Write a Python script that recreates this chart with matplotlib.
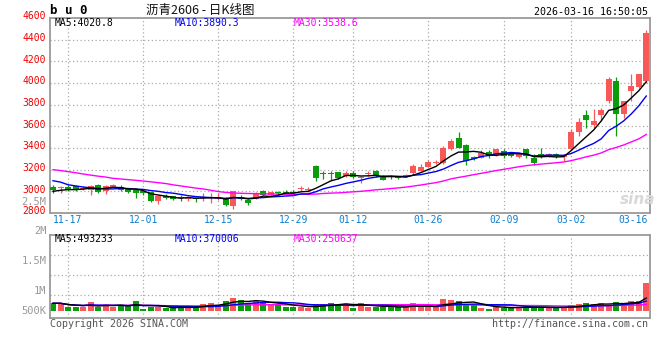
import numpy as np
import pandas as pd
import matplotlib
matplotlib.use("Agg")
import matplotlib.pyplot as plt
from matplotlib import transforms

# ---------------- data ----------------
open_ = [3043, 3028, 3043, 3046, 3025, 3009, 3061, 3000, 3043, 3043,
         3022, 3013, 3006, 2991, 2909, 2961, 2954, 2951, 2930, 2939,
         2940, 2937, 2930, 2939, 2860, 2951, 2924, 2930, 3006, 2970,
         2991, 2997, 2997, 3025, 3010, 3236, 3162, 3162, 3175, 3138,
         3165, 3126, 3163, 3190, 3144, 3137, 3130, 3142, 3165, 3190,
         3226, 3263, 3265, 3388, 3490, 3428, 3318, 3312, 3364, 3337,
         3373, 3349, 3318, 3389, 3312, 3343, 3327, 3343, 3321, 3389,
         3548, 3701, 3609, 3704, 3832, 4022, 3710, 3924, 3963, 4016]
close = [3009, 3034, 3013, 3016, 3030, 3052, 2991, 3052, 3061, 3016,
         2991, 2985, 2985, 2909, 2961, 2939, 2930, 2942, 2942, 2930,
         2944, 2941, 2951, 2875, 3006, 2927, 2890, 2988, 2970, 2991,
         2982, 2988, 2985, 3030, 3015, 3123, 3158, 3157, 3123, 3169,
         3128, 3130, 3167, 3144, 3107, 3133, 3126, 3146, 3236, 3226,
         3275, 3267, 3400, 3465, 3404, 3282, 3294, 3358, 3337, 3389,
         3327, 3327, 3358, 3327, 3266, 3318, 3343, 3334, 3337, 3548,
         3640, 3658, 3649, 3750, 4040, 3716, 3832, 3970, 4083, 4459]
high = [3058, 3052, 3058, 3058, 3052, 3055, 3068, 3061, 3064, 3058,
        3028, 3028, 3016, 2997, 2967, 2976, 2961, 2967, 2948, 2942,
        2982, 2982, 2982, 2945, 3006, 2967, 2930, 2991, 3010, 2995,
        3006, 3009, 3009, 3052, 3037, 3245, 3190, 3190, 3181, 3184,
        3184, 3144, 3184, 3196, 3150, 3150, 3144, 3160, 3251, 3251,
        3288, 3288, 3419, 3480, 3548, 3434, 3324, 3379, 3379, 3395,
        3389, 3360, 3364, 3395, 3343, 3404, 3352, 3358, 3343, 3572,
        3680, 3749, 3756, 3765, 4052, 4052, 3838, 4086, 4086, 4490]
low = [2985, 2982, 3006, 3006, 3016, 2964, 2982, 2973, 3040, 3006,
       2988, 2936, 2964, 2906, 2881, 2930, 2918, 2915, 2912, 2899,
       2915, 2890, 2918, 2869, 2835, 2921, 2878, 2927, 2966, 2966,
       2970, 2976, 2973, 3000, 2991, 3098, 3114, 3104, 3114, 3129,
       3123, 3074, 3144, 3135, 3104, 3114, 3110, 3128, 3160, 3184,
       3220, 3251, 3255, 3379, 3398, 3245, 3288, 3306, 3312, 3330,
       3306, 3318, 3312, 3312, 3245, 3312, 3318, 3312, 3282, 3383,
       3511, 3582, 3588, 3649, 3816, 3511, 3679, 3832, 3954, 4000]
volume = [285000, 285000, 148000, 148000, 148000, 333000, 148000, 237000, 148000, 211000,
          211000, 359000, 89000, 148000, 148000, 111000, 111000, 148000, 148000, 148000,
          259000, 296000, 222000, 370000, 481000, 407000, 285000, 370000, 285000, 259000,
          259000, 148000, 148000, 148000, 111000, 259000, 259000, 285000, 259000, 259000,
          126000, 285000, 148000, 148000, 148000, 148000, 148000, 148000, 285000, 148000,
          148000, 148000, 444000, 407000, 370000, 222000, 222000, 126000, 89000, 148000,
          126000, 126000, 148000, 148000, 148000, 148000, 111000, 111000, 148000, 211000,
          248000, 285000, 248000, 285000, 222000, 333000, 285000, 370000, 370000, 1036000]

# moving-average values before enough bars are visible
ma5_head = [3000, 3010, 3016, 3016]
ma10_head = [3098, 3085, 3061, 3050, 3040, 3033, 3028, 3022, 3022]
ma30_head = [3200, 3192, 3182, 3172, 3160, 3150, 3140, 3132, 3120, 3114,
             3108, 3102, 3095, 3088, 3080, 3072, 3060, 3050, 3040, 3030,
             3022, 3010, 2998, 2990, 2985, 2982, 2980, 2979, 2977]

x_tick_labels = ["11-17", "12-01", "12-15", "12-29", "01-12", "01-26", "02-09", "03-02", "03-16"]
x_tick_bars = [2, 12, 22, 32, 40, 50, 60, 69, 79]
price_ticks = [4600, 4400, 4200, 4000, 3800, 3600, 3400, 3200, 3000, 2800]
vol_tick_labels = ["2.5M", "2M", "1.5M", "1M", "500K"]

title_code = "b u 0"
title_text = "沥青2606 - 日K线图"
timestamp = "2026-03-16 16:50:05"
ma_price_text = ["MA5:4020.8", "MA10:3890.3", "MA30:3538.6"]
ma_vol_text = ["MA5:493233", "MA10:370006", "MA30:250637"]
copyright_text = "Copyright 2026 SINA.COM"
url_text = "http://finance.sina.com.cn"

# ---------------- derived ----------------
o = np.array(open_, float)
c = np.array(close, float)
h = np.array(high, float)
l = np.array(low, float)
v = np.array(volume, float)
n = len(c)
idx = np.arange(n)

cs = pd.Series(c)
ma5 = cs.rolling(5).mean().to_numpy(); ma5[:4] = ma5_head
ma10 = cs.rolling(10).mean().to_numpy(); ma10[:9] = ma10_head
ma30 = cs.rolling(30).mean().to_numpy(); ma30[:29] = ma30_head
vs = pd.Series(v)
vma5 = vs.rolling(5, min_periods=1).mean().to_numpy()
vma10 = vs.rolling(10, min_periods=1).mean().to_numpy()
vma30 = vs.rolling(30, min_periods=1).mean().to_numpy()

RED = "#f85858"
GREEN = "#0b9c0b"
BLUE = "#0000f0"
MAG = "#ff00ff"
GRID = "#aaaaaa"
FRAME = "#9a9a9a"
MONO = "DejaVu Sans Mono"
cols = [RED if c[i] >= o[i] else GREEN for i in range(n)]

W, H = 660, 360
fig = plt.figure(figsize=(W / 100, H / 100), dpi=100)
fig.patch.set_facecolor("white")

def fx(x):
    return x / W

def fy(y):
    return 1 - y / H

# ---------------- main price panel ----------------
ax = fig.add_axes([fx(50), fy(213), 600 / W, 195 / H])
ax.set_xlim(-0.4, 79.5)
ax.set_ylim(2800, 4600)
ax.set_xticks([]); ax.set_yticks([])
for s in ax.spines.values():
    s.set_color(FRAME); s.set_linewidth(1.3)

for p in price_ticks[1:-1]:
    ax.axhline(p, color=GRID, lw=0.9, ls=(0, (1, 2)), zorder=0)
for b in x_tick_bars[:-1]:
    ax.axvline(b, color=GRID, lw=0.9, ls=(0, (1, 2)), zorder=0)

ax.vlines(idx, l, h, colors=cols, lw=0.9, zorder=2)
body = np.maximum(np.abs(c - o), 9)
ax.bar(idx, body, bottom=np.minimum(o, c), width=0.8, color=cols, lw=0, zorder=3)

ax.plot(idx, ma30, color=MAG, lw=1.0, zorder=4)
ax.plot(idx, ma10, color=BLUE, lw=1.0, zorder=4)
ax.plot(idx, ma5, color="black", lw=1.0, zorder=4)

# price labels
lab_tr = transforms.blended_transform_factory(ax.transAxes, ax.transData) + \
    transforms.ScaledTranslation(0, 1.5 / 100, fig.dpi_scale_trans)
for p in price_ticks:
    ax.text(-0.007, p, str(p), transform=lab_tr, ha="right", va="center",
            color="#ee0000", fontsize=7, family=MONO, clip_on=False)

# date labels
xd_tr = transforms.blended_transform_factory(ax.transData, ax.transAxes)
for lab, b in zip(x_tick_labels, x_tick_bars):
    if b >= n - 1:
        ax.text(0.997, -0.038, lab, transform=ax.transAxes, ha="right", va="center",
                color="#0a7fcf", fontsize=7, family=MONO, clip_on=False)
    else:
        ax.text(b, -0.038, lab, transform=xd_tr, ha="center", va="center",
                color="#0a7fcf", fontsize=7, family=MONO, clip_on=False)

# ---------------- volume panel ----------------
vax = fig.add_axes([fx(50), fy(318), 600 / W, 83 / H])
vax.set_xlim(-0.4, 79.5)
vax.set_ylim(-259000, 2812000)
vax.set_xticks([]); vax.set_yticks([])
for s in vax.spines.values():
    s.set_color(FRAME); s.set_linewidth(1.3)
for f in [0.277, 0.518, 0.759]:
    vax.plot([0, 1], [f, f], transform=vax.transAxes, color=GRID, lw=0.9,
             ls=(0, (1, 2)), zorder=0)
for b in x_tick_bars[:-1]:
    vax.axvline(b, color=GRID, lw=0.9, ls=(0, (1, 2)), zorder=0)
vax.bar(idx, v, width=0.8, color=cols, lw=0, zorder=2)
vax.plot(idx, vma30, color=MAG, lw=1.0, zorder=3)
vax.plot(idx, vma10, color=BLUE, lw=1.0, zorder=3)
vax.plot(idx, vma5, color="black", lw=1.0, zorder=3)

# volume axis labels (placed as in the reference)
for lab, ypix in zip(vol_tick_labels, [202, 231, 260.5, 290.5, 310.5]):
    fig.text(fx(46.5), fy(ypix), lab, ha="right", va="center", color="#999999",
             fontsize=7.5, family=MONO)

# ---------------- texts ----------------
fig.text(fx(50), fy(10), title_code, ha="left", va="center", fontsize=9,
         family=MONO, weight="bold", color="black")
fig.text(fx(200), fy(10), title_text, ha="center", va="center", fontsize=9,
         family=["Noto Sans CJK SC", "DejaVu Sans"], color="#111111")
fig.text(fx(648), fy(12), timestamp, ha="right", va="center", fontsize=7.2,
         family=MONO, color="black")

for t, col, xp in zip(ma_price_text, ["black", BLUE, MAG], [55, 175, 294]):
    fig.text(fx(xp), fy(23.5), t, ha="left", va="center", fontsize=7,
             family=MONO, color=col)
for t, col, xp in zip(ma_vol_text, ["black", BLUE, MAG], [55, 175, 294]):
    fig.text(fx(xp), fy(238.5), t, ha="left", va="center", fontsize=7,
             family=MONO, color=col)

fig.text(fx(50), fy(324), copyright_text, ha="left", va="center", fontsize=7.2,
         family=MONO, color="#555555")
fig.text(fx(648), fy(324), url_text, ha="right", va="center", fontsize=7.2,
         family=MONO, color="#555555")

# faint sina watermark
fig.text(fx(620), fy(199), "sina", ha="left", va="center", fontsize=11,
         style="italic", weight="bold", color="#d8d8d8")

fig.savefig("out.png", dpi=100, facecolor="white")
